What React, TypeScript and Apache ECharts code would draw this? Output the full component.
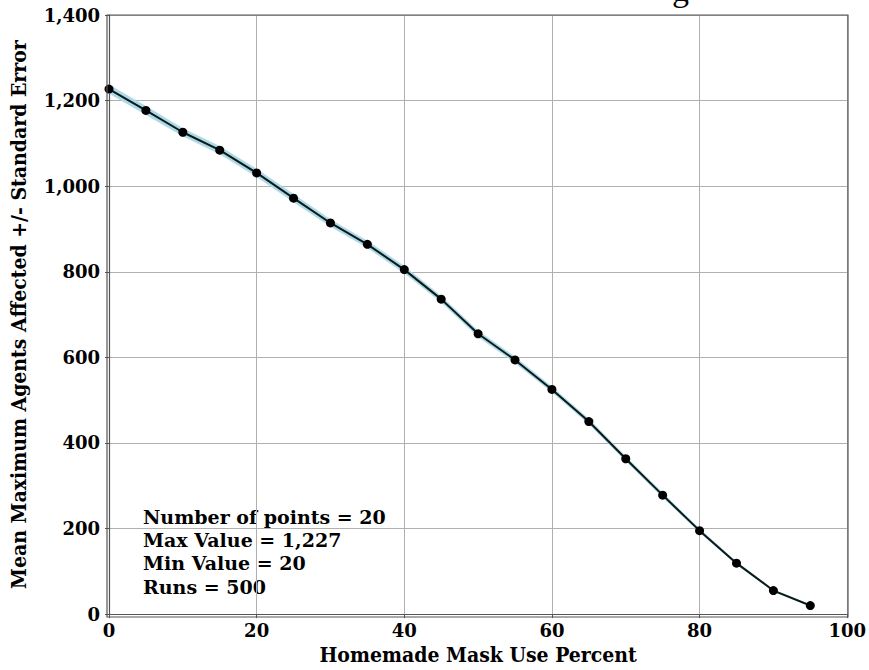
import React, { useEffect, useRef } from "react";
import * as echarts from "echarts";

const maskPercent = [0, 5, 10, 15, 20, 25, 30, 35, 40, 45, 50, 55, 60, 65, 70, 75, 80, 85, 90, 95];
const meanAffected = [1227, 1177, 1126, 1084, 1031, 972, 914, 864, 805, 736, 655, 594, 525, 450, 363, 278, 195, 119, 55, 20];
const stdError = [10, 10, 9, 9, 9, 9, 8, 8, 8, 7, 7, 7, 6, 6, 5, 5, 4, 3, 2, 1];
const annotationLines = ["Number of points = 20", "Max Value = 1,227", "Min Value = 20", "Runs = 500"];
const xTitle = "Homemade Mask Use Percent";
const yTitle = "Mean Maximum Agents Affected +/- Standard Error";
const titleTail = "g";

const SERIF = "'DejaVu Serif', serif";
const SERIF_COND = "'DejaVu Serif Condensed', 'DejaVu Serif', serif";

export default function App() {
  const ref = useRef<HTMLDivElement>(null);
  useEffect(() => {
    if (!ref.current) return;
    const chart = echarts.init(ref.current, null, { renderer: "svg" });
    const bandSegments = maskPercent.slice(0, -1).map((x, i) => [
      x,
      meanAffected[i] - stdError[i],
      meanAffected[i] + stdError[i],
      maskPercent[i + 1],
      meanAffected[i + 1] - stdError[i + 1],
      meanAffected[i + 1] + stdError[i + 1],
    ]);
    const main = maskPercent.map((x, i) => [x, meanAffected[i]]);
    const fmt = (v: number) => v.toLocaleString("en-US");
    chart.setOption({
      animation: false,
      backgroundColor: "#ffffff",
      grid: { left: 107, right: 21, top: 15, bottom: 53, containLabel: false },
      xAxis: {
        type: "value",
        min: 0,
        max: 100,
        interval: 20,
        name: xTitle,
        nameLocation: "middle",
        nameGap: 27,
        nameTextStyle: { fontFamily: SERIF_COND, fontWeight: "bold", fontSize: 21, color: "#000", verticalAlign: "top" },
        axisLine: { show: true, onZero: false, lineStyle: { color: "#555", width: 1.2 } },
        axisTick: { show: true, length: 4, lineStyle: { color: "#555" } },
        axisLabel: { fontFamily: SERIF, fontWeight: "bold", fontSize: 18, color: "#000", margin: 7 },
        splitLine: { show: true, lineStyle: { color: "#b0b0b0", width: 1 } },
      },
      yAxis: {
        type: "value",
        min: 0,
        max: 1400,
        interval: 200,
        name: yTitle,
        nameLocation: "middle",
        nameGap: 80,
        nameTextStyle: { fontFamily: SERIF_COND, fontWeight: "bold", fontSize: 21, color: "#000" },
        axisLine: { show: true, lineStyle: { color: "#555", width: 1.2 } },
        axisTick: { show: true, length: 4, lineStyle: { color: "#555" } },
        axisLabel: { fontFamily: SERIF, fontWeight: "bold", fontSize: 18, color: "#000", margin: 9, formatter: fmt },
        splitLine: { show: true, lineStyle: { color: "#b0b0b0", width: 1 } },
      },
      graphic: [
        {
          type: "rect",
          shape: { x: 107, y: 15, width: 741, height: 602 },
          style: { fill: "none", stroke: "#555", lineWidth: 1.2 },
          silent: true,
          z: 10,
        },
        {
          type: "text",
          left: 672,
          top: -28,
          style: { text: titleTail, font: "34px 'Liberation Serif', serif", fill: "#000" },
        },
        {
          type: "text",
          left: 143,
          top: 505,
          style: {
            text: annotationLines.join("\n"),
            font: "bold 19px 'DejaVu Serif', serif",
            lineHeight: 23.3,
            fill: "#000",
          },
        },
      ],
      series: [
        {
          type: "custom",
          data: bandSegments,
          silent: true,
          z: 1,
          renderItem: (params: any, api: any) => {
            const p1 = api.coord([api.value(0), api.value(1)]);
            const p2 = api.coord([api.value(3), api.value(4)]);
            const p3 = api.coord([api.value(3), api.value(5)]);
            const p4 = api.coord([api.value(0), api.value(2)]);
            return {
              type: "polygon",
              shape: { points: [p1, p2, p3, p4] },
              style: { fill: "#add8e6", stroke: "#add8e6", lineWidth: 0.5 },
            };
          },
        },
        {
          type: "line",
          data: main,
          symbol: "circle",
          symbolSize: 9,
          itemStyle: { color: "#000" },
          lineStyle: { color: "#0a1a1a", width: 2 },
          z: 5,
        },
      ],
    });
    return () => chart.dispose();
  }, []);
  return <div ref={ref} style={{ position: "fixed", left: 0, top: 0, width: 869, height: 670 }} />;
}
